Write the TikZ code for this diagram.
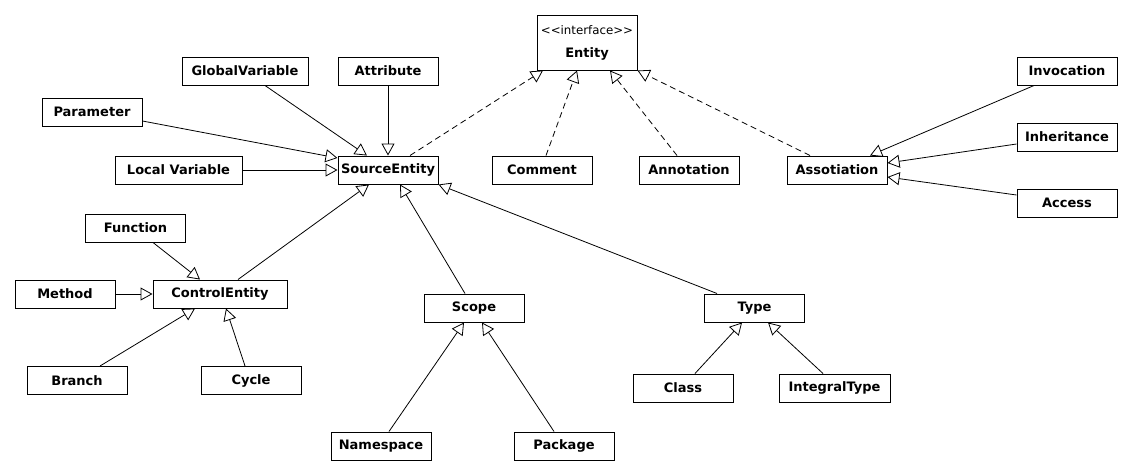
\documentclass[tikz,border=0pt]{standalone}
\usepackage{fontspec}
\setmainfont{DejaVu Sans}
\usetikzlibrary{calc,arrows.meta}
\begin{document}
\begin{tikzpicture}[x=1pt,y=-1pt,
  cls/.style={draw, line width=1pt, minimum width=100pt, minimum height=28pt, inner sep=0pt,
    font=\fontsize{13}{15}\selectfont\bfseries},
  gen/.style={line width=0.8pt, -{Triangle[open,length=12pt,width=13pt]}},
  real/.style={gen, dash pattern=on 6pt off 4pt}]
\useasboundingbox (0,0) rectangle (1132,475);
\fill[white] (0,0) rectangle (1132,475);

\node[cls, minimum height=55pt, align=center] (entity) at (587,42.5)
  {\fontsize{11.8}{13}\mdseries <\kern0pt<interface>\kern0pt>\\[8pt]Entity};
\node[cls, minimum width=126pt] (gv) at (245,71) {GlobalVariable};
\node[cls] (attr) at (388,71) {Attribute};
\node[cls] (param) at (92,112) {Parameter};
\node[cls, minimum width=127pt] (local) at (178.5,170) {Local Variable};
\node[cls] (source) at (388,170) {SourceEntity};
\node[cls] (comment) at (542,170) {Comment};
\node[cls] (annot) at (689,170) {Annotation};
\node[cls] (assoc) at (837,170) {Assotiation};
\node[cls] (invoc) at (1067,71) {Invocation};
\node[cls] (inher) at (1067,137) {Inheritance};
\node[cls] (access) at (1067,203) {Access};
\node[cls] (function) at (135.5,228) {Function};
\node[cls] (method) at (65,294) {Method};
\node[cls, minimum width=134pt] (control) at (220,294) {ControlEntity};
\node[cls] (branch) at (77,380.5) {Branch};
\node[cls] (cycle) at (251,380.5) {Cycle};
\node[cls] (scope) at (474,308) {Scope};
\node[cls] (type) at (754.5,308) {Type};
\node[cls] (class) at (683,388) {Class};
\node[cls, minimum width=111pt] (integral) at (834.5,388) {IntegralType};
\node[cls] (namespace) at (381,446) {Namespace};
\node[cls] (package) at (564,446) {Package};

% generalisations to SourceEntity
\draw[gen] ($(gv.south)+(20,0)$) -- ($(source.north)+(-21,0)$);
\draw[gen] (attr.south) -- (source.north);
\draw[gen] ($(param.east)+(0,9)$) -- ($(source.west)+(0,-12)$);
\draw[gen] (local.east) -- (source.west);
\draw[gen] ($(control.north)+(18,0)$) -- ($(source.south)+(-19,0)$);
\draw[gen] ($(scope.north)+(-9,0)$) -- ($(source.south)+(12,0)$);
\draw[gen] ($(type.north)+(-37.5,0)$) -- (source.south east);

% realisations of Entity
\draw[real] ($(source.north)+(22,0)$) -- ($(entity.south)+(-44,0)$);
\draw[real] ($(comment.north)+(4,0)$) -- ($(entity.south)+(-10,0)$);
\draw[real] ($(annot.north)+(-12,0)$) -- ($(entity.south)+(23,0)$);
\draw[real] ($(assoc.north)+(-27,0)$) -- (entity.south east);

% Assotiation
\draw[gen] ($(invoc.south)+(-33,0)$) -- ($(assoc.north)+(33,0)$);
\draw[gen] ($(inher.west)+(0,7)$) -- ($(assoc.east)+(0,-7)$);
\draw[gen] ($(access.west)+(0,-8)$) -- ($(assoc.east)+(0,7)$);

% ControlEntity
\draw[gen] ($(function.south)+(17.5,0)$) -- ($(control.north)+(-20,0)$);
\draw[gen] (method.east) -- (control.west);
\draw[gen] ($(branch.north)+(23,0)$) -- ($(control.south)+(-25,0)$);
\draw[gen] ($(cycle.north)+(-6,0)$) -- ($(control.south)+(6,0)$);

% Scope
\draw[gen] ($(namespace.north)+(8,0)$) -- ($(scope.south)+(-10,0)$);
\draw[gen] ($(package.north)+(-10,0)$) -- ($(scope.south)+(8,0)$);

% Type
\draw[gen] ($(class.north)+(12,0)$) -- ($(type.south)+(-12.5,0)$);
\draw[gen] ($(integral.north)+(-11.5,0)$) -- ($(type.south)+(13.5,0)$);
\end{tikzpicture}
\end{document}
